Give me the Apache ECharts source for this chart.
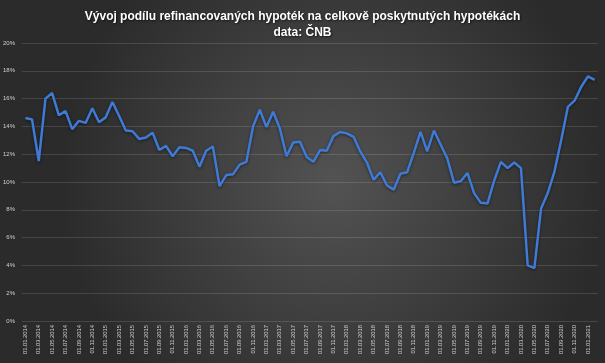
<!DOCTYPE html>
<html>
<head>
<meta charset="utf-8">
<script src="https://cdn.jsdelivr.net/npm/echarts@6/dist/echarts.min.js"></script>
<style>html,body{margin:0;padding:0;background:#333;}#c{width:605px;height:363px;}</style>
</head>
<body>
<div id="c"></div>
<script>
const titleLines = ['Vývoj podílu refinancovaných hypoték na celkově poskytnutých hypotékách', 'data: ČNB'];
const categories = [
'01.01.2014','01.02.2014','01.03.2014','01.04.2014','01.05.2014','01.06.2014','01.07.2014','01.08.2014','01.09.2014','01.10.2014','01.11.2014','01.12.2014',
'01.01.2015','01.02.2015','01.03.2015','01.04.2015','01.05.2015','01.06.2015','01.07.2015','01.08.2015','01.09.2015','01.10.2015','01.11.2015','01.12.2015',
'01.01.2016','01.02.2016','01.03.2016','01.04.2016','01.05.2016','01.06.2016','01.07.2016','01.08.2016','01.09.2016','01.10.2016','01.11.2016','01.12.2016',
'01.01.2017','01.02.2017','01.03.2017','01.04.2017','01.05.2017','01.06.2017','01.07.2017','01.08.2017','01.09.2017','01.10.2017','01.11.2017','01.12.2017',
'01.01.2018','01.02.2018','01.03.2018','01.04.2018','01.05.2018','01.06.2018','01.07.2018','01.08.2018','01.09.2018','01.10.2018','01.11.2018','01.12.2018',
'01.01.2019','01.02.2019','01.03.2019','01.04.2019','01.05.2019','01.06.2019','01.07.2019','01.08.2019','01.09.2019','01.10.2019','01.11.2019','01.12.2019',
'01.01.2020','01.02.2020','01.03.2020','01.04.2020','01.05.2020','01.06.2020','01.07.2020','01.08.2020','01.09.2020','01.10.2020','01.11.2020','01.12.2020',
'01.01.2021','01.02.2021'
];
const refinShare = [
14.6,14.5,11.5,16.0,16.4,14.8,15.1,13.8,14.4,14.25,15.3,14.3,
14.65,15.75,14.75,13.7,13.65,13.1,13.2,13.55,12.3,12.6,11.85,12.5,
12.45,12.25,11.1,12.25,12.55,9.7,10.5,10.55,11.25,11.45,14.0,15.2,
13.95,15.05,13.85,11.85,12.85,12.9,11.8,11.45,12.3,12.25,13.3,13.6,
13.5,13.25,12.2,11.4,10.15,10.7,9.75,9.45,10.6,10.7,12.1,13.6,
12.2,13.7,12.7,11.7,9.95,10.05,10.65,9.2,8.5,8.45,10.1,11.45,
11.0,11.4,11.0,4.0,3.8,8.1,9.2,10.75,13.0,15.4,15.85,16.85,
17.6,17.35
];
const yTicks = {min: 0, max: 20, step: 2};

const chart = echarts.init(document.getElementById('c'), null, {renderer: 'canvas'});
chart.setOption({
  animation: false,
  backgroundColor: {
    type: 'radial', x: 0.55, y: 0.5, r: 0.75,
    colorStops: [{offset: 0, color: '#535353'}, {offset: 1, color: '#2b2b2b'}]
  },
  title: {
    text: titleLines.join('\n'),
    left: 'center',
    top: 3,
    textStyle: {
      color: '#ffffff', fontWeight: 'bold', fontSize: 12, lineHeight: 16.5,
      fontFamily: 'Liberation Sans, Arial, sans-serif',
      textShadowColor: 'rgba(0,0,0,0.6)', textShadowBlur: 2, textShadowOffsetX: 1, textShadowOffsetY: 1
    }
  },
  grid: {left: 20, right: 7, top: 43, bottom: 42, containLabel: false},
  xAxis: {
    type: 'category',
    data: categories,
    boundaryGap: true,
    axisLine: {show: false},
    axisTick: {show: false},
    axisLabel: {
      interval: 1, rotate: 90, margin: 4,
      color: '#d0d0d0', fontSize: 5.8,
      fontFamily: 'Liberation Sans Narrow, Liberation Sans, Arial, sans-serif'
    },
    splitLine: {show: false}
  },
  yAxis: {
    type: 'value',
    min: yTicks.min, max: yTicks.max, interval: yTicks.step,
    axisLine: {show: false},
    axisTick: {show: false},
    axisLabel: {
      formatter: '{value}%', margin: 7,
      color: '#d0d0d0', fontSize: 6,
      fontFamily: 'Liberation Sans, Arial, sans-serif'
    },
    splitLine: {lineStyle: {color: 'rgba(255,255,255,0.13)', width: 1}}
  },
  series: [{
    type: 'line',
    data: refinShare,
    symbol: 'none',
    lineStyle: {color: '#3f7ad6', width: 2.5, shadowColor: 'rgba(0,0,0,0.5)', shadowBlur: 3, shadowOffsetY: 1},
    itemStyle: {color: '#3f7ad6'}
  }]
});
</script>
</body>
</html>
